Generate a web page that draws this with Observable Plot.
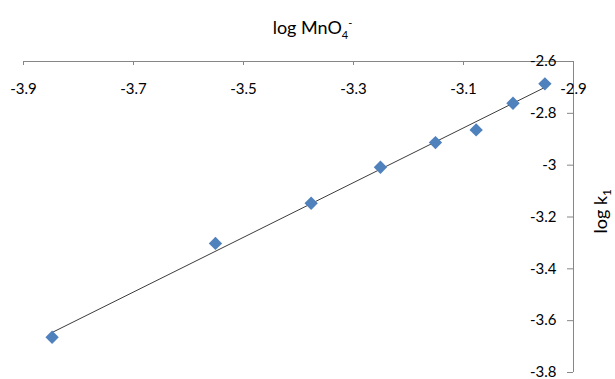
<!DOCTYPE html>
<html>
<head>
<meta charset="utf-8">
<script src="https://cdn.jsdelivr.net/npm/d3@7"></script>
<script src="https://cdn.jsdelivr.net/npm/@observablehq/plot@0.6"></script>
<style>
  body { margin: 0; background: #fff; font-family: Lato, "Open Sans", sans-serif; }
  #title { height: 40px; width: 615px; box-sizing: border-box; padding-left: 10px; text-align: center; font-size: 18px; line-height: 20px; padding-top: 13px; color: #000; }
  #title sub { font-size: 11px; }
  #title sup { font-size: 11px; }
</style>
</head>
<body>
<div id="title">log MnO<sub>4</sub><sup>-</sup></div>
<div id="chart"></div>
<script>
const logMnO4 = [-3.848, -3.551, -3.377, -3.251, -3.151, -3.077, -3.010, -2.952];
const logK1   = [-3.664, -3.302, -3.147, -3.008, -2.913, -2.864, -2.761, -2.686];
const xTicks = [-3.9, -3.7, -3.5, -3.3, -3.1, -2.9];
const yTicks = [-2.6, -2.8, -3.0, -3.2, -3.4, -3.6, -3.8];

const data = logMnO4.map((x, i) => ({x, y: logK1[i]}));
const axisColor = "#868686";

const plot = Plot.plot({
  width: 615,
  height: 339,
  marginLeft: 23,
  marginRight: 42,
  marginTop: 21,
  marginBottom: 7,
  style: { fontFamily: "Lato, 'Open Sans', sans-serif", fontSize: "15px", background: "#fff", overflow: "visible" },
  x: { domain: [-3.9, -2.9], axis: null },
  y: { domain: [-3.8, -2.6], axis: null },
  marks: [
    Plot.ruleY([-2.6], { stroke: axisColor, strokeWidth: 1 }),
    Plot.ruleX([-2.9], { stroke: axisColor, strokeWidth: 1 }),
    Plot.ruleX(xTicks, { x: d => d, stroke: axisColor, insetBottom: 311 - 4 }),
    Plot.ruleY(yTicks, { y: d => d, stroke: axisColor, insetLeft: 550 - 6 }),
    Plot.text(xTicks, { x: d => d, frameAnchor: "top", dy: 22, text: d => String(d), fill: "#000", fontSize: 15 }),
    Plot.text(yTicks, { y: d => d, frameAnchor: "right", dx: -17, textAnchor: "end", text: d => String(d), fill: "#000", fontSize: 15 }),
    Plot.linearRegressionY(data, { x: "x", y: "y", stroke: "#3c3c3c", strokeWidth: 1, ci: 0 }),
    Plot.dot(data, { x: "x", y: "y", symbol: "diamond2", r: 6, fill: "#4F81BD", stroke: "none" }),
    Plot.text(["log k1"], { frameAnchor: "right", dx: 28, dy: -28, rotate: -90, text: d => d, fontSize: 18, fill: "#000" })
  ]
});
// render the "1" of the y-axis title as a subscript
d3.select(plot).selectAll("text").filter(function () { return this.textContent === "log k1"; })
  .each(function () {
    const t = d3.select(this);
    t.text(null);
    t.append("tspan").text("log k");
    t.append("tspan").attr("dy", "0.3em").attr("font-size", "12px").text("1");
  });
document.getElementById("chart").appendChild(plot);
</script>
</body>
</html>
